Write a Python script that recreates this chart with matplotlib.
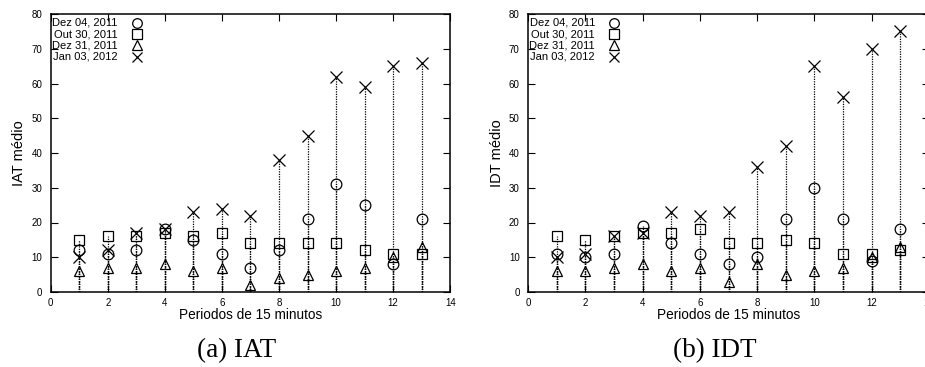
import matplotlib
matplotlib.use("Agg")
import matplotlib.pyplot as plt
import numpy as np

periods = list(range(1, 14))
series_labels = ["Dez 04, 2011", "Out 30, 2011", "Dez 31, 2011", "Jan 03, 2012"]

iat_dez04 = [12, 11, 12, 18, 15, 11, 7, 12, 21, 31, 25, 8, 21]
iat_out30 = [15, 16, 16, 17, 16, 17, 14, 14, 14, 14, 12, 11, 11]
iat_dez31 = [6, 7, 7, 8, 6, 7, 2, 4, 5, 6, 7, 10, 13]
iat_jan03 = [10, 12, 17, 18, 23, 24, 22, 38, 45, 62, 59, 65, 66]

idt_dez04 = [11, 10, 11, 19, 14, 11, 8, 10, 21, 30, 21, 9, 18]
idt_out30 = [16, 15, 16, 17, 17, 18, 14, 14, 15, 14, 11, 11, 12]
idt_dez31 = [6, 6, 7, 8, 6, 7, 3, 8, 5, 6, 7, 10, 13]
idt_jan03 = [10, 11, 16, 17, 23, 22, 23, 36, 42, 65, 56, 70, 75]

markers = ["o", "s", "^", "x"]
msizes = [7.7, 7.4, 7.4, 8.6]

plt.rcParams['font.family'] = ['Liberation Sans', 'DejaVu Sans']

fig = plt.figure(figsize=(9.25, 3.67), dpi=100)
axL = fig.add_axes([50.7/925, 75/367, 399.5/925, 278/367])
axR = fig.add_axes([528/925, 75/367, 401/925, 278/367])

panels = [
    (axL, [iat_dez04, iat_out30, iat_dez31, iat_jan03], "IAT médio", "(a) IAT", 237),
    (axR, [idt_dez04, idt_out30, idt_dez31, idt_jan03], "IDT médio", "(b) IDT", 715),
]

for ax, data, ylab, cap, capx in panels:
    for vals in data:
        ax.vlines(periods, 0, vals, colors="black", linestyles=(0, (1, 1)), linewidth=0.9, zorder=1)
    for vals, m, ms in zip(data, markers, msizes):
        ax.plot(periods, vals, linestyle="none", marker=m, markersize=ms,
                markerfacecolor="none", markeredgecolor="black", markeredgewidth=0.9, zorder=3)
    ax.set_xlim(0, 14)
    ax.set_ylim(0, 80)
    ax.set_xticks(range(0, 15, 2))
    ax.set_yticks(range(0, 81, 10))
    ax.tick_params(direction="in", length=5, width=0.8, top=True, right=True, labelsize=7, pad=4)
    ax.tick_params(axis="y", pad=6)
    for s in ax.spines.values():
        s.set_linewidth(1.1)
    ax.set_xlabel("Periodos de 15 minutos", fontsize=9.8, labelpad=0)
    ax.set_ylabel(ylab, fontsize=10.5, labelpad=3.8)
    # key (gnuplot style: right-aligned text, then marker)
    rows = [0.969, 0.928, 0.888, 0.847]
    for lab, m, ms, yy in zip(series_labels, markers, msizes, rows):
        ax.text(0.167, yy, lab, transform=ax.transAxes, ha="right", va="center", fontsize=8)
        ax.plot([0.215], [yy], transform=ax.transAxes, linestyle="none", marker=m, markersize=ms * 0.9,
                markerfacecolor="none", markeredgecolor="black", markeredgewidth=0.9, clip_on=False)
    fig.text(capx / 925, 1 - 351/367, cap, ha="center", va="center",
             fontsize=19.5, family="Liberation Serif")

fig.savefig("out.png", dpi=100)
